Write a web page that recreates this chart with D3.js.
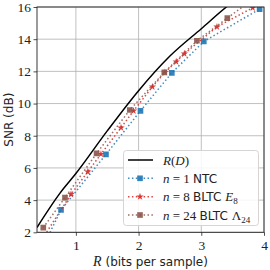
<!DOCTYPE html>
<html><head><meta charset="utf-8">
<script src="https://cdn.jsdelivr.net/npm/d3@7"></script>
<style>body{margin:0;background:#fff}svg{display:block}</style>
</head><body>
<svg id="c" width="270" height="270"></svg>
<script>
// ---- data ----
const rdR = [0.38, 0.75, 1.0, 1.5, 2.0, 2.5, 3.0, 3.4, 3.6];
const rdS = [2.3, 4.45, 5.65, 8.3, 10.8, 12.95, 14.65, 16.0, 16.6];
const ntcR = [0.45, 0.763, 1.48, 2.03, 2.53, 3.04, 3.93];
const ntcS = [0.9, 3.39, 6.84, 9.55, 11.91, 13.86, 15.87];
const e8R = [0.4, 0.922, 1.19, 1.40, 1.72, 1.92, 2.22, 2.42, 2.60, 2.73, 3.25, 3.82];
const e8S = [1.2, 4.36, 5.76, 6.86, 8.5, 9.55, 11.04, 11.94, 12.6, 13.1, 14.77, 15.95];
const l24R = [0.48, 0.826, 1.33, 1.86, 2.41, 2.93, 3.415, 3.9];
const l24S = [2.29, 4.15, 6.9, 9.6, 11.94, 13.9, 15.31, 16.7];
const xTicks = [1, 2, 3, 4];
const yTicks = [2, 4, 6, 8, 10, 12, 14, 16];

const svg = d3.select("#c");
const L = 37, R = 264, T = 7, B = 232.3;
const x = d3.scaleLinear().domain([0.38, 4]).range([L, R]);
const y = d3.scaleLinear().domain([2, 16]).range([B, T]);
const serif = "'Liberation Serif','DejaVu Serif',serif";
const sans = "'DejaVu Sans',sans-serif";

svg.append("clipPath").attr("id", "clip").append("rect")
  .attr("x", L).attr("y", T).attr("width", R - L).attr("height", B - T);

// grid
const g = svg.append("g");
g.selectAll(".gx").data(xTicks).join("line")
  .attr("x1", d => x(d)).attr("x2", d => x(d)).attr("y1", T).attr("y2", B)
  .attr("stroke", "#b0b0b0").attr("stroke-width", 0.8);
g.selectAll(".gy").data(yTicks).join("line")
  .attr("y1", d => y(d)).attr("y2", d => y(d)).attr("x1", L).attr("x2", R)
  .attr("stroke", "#b0b0b0").attr("stroke-width", 0.8);

// axes
const xa = svg.append("g").attr("transform", `translate(0,${B})`)
  .call(d3.axisBottom(x).tickValues(xTicks).tickSize(3.5).tickPadding(3).tickFormat(d3.format("d")));
const ya = svg.append("g").attr("transform", `translate(${L},0)`)
  .call(d3.axisLeft(y).tickValues(yTicks).tickSize(3.5).tickPadding(2.5).tickFormat(d3.format("d")));
[xa, ya].forEach(a => {
  a.select(".domain").remove();
  a.selectAll("line").attr("stroke", "#222").attr("stroke-width", 0.8);
  a.selectAll("text").attr("font-family", serif).attr("font-size", 13.5).attr("fill", "#222");
});
xa.selectAll("text").attr("dy", "0.85em");

// data
const plot = svg.append("g").attr("clip-path", "url(#clip)");
function pts(a, b) { return a.map((v, i) => [v, b[i]]); }
const line = d3.line().x(d => x(d[0])).y(d => y(d[1]));
plot.append("path").datum(pts(rdR, rdS)).attr("d", line.curve(d3.curveMonotoneX))
  .attr("fill", "none").attr("stroke", "#000").attr("stroke-width", 1.5);
const lin = d3.line().x(d => x(d[0])).y(d => y(d[1]));
const series = [
  {r: ntcR, s: ntcS, c: "#1f77b4", m: "square"},
  {r: e8R, s: e8S, c: "#d62728", m: "star"},
  {r: l24R, s: l24S, c: "#8c564b", m: "square"}
];
const sq = d3.symbol().type(d3.symbolSquare).size(32);
const st = d3.symbol().type(d3.symbolStar).size(17);
series.forEach(se => {
  const p = pts(se.r, se.s);
  plot.append("path").datum(p).attr("d", lin).attr("fill", "none")
    .attr("stroke", se.c).attr("stroke-width", 1.5).attr("stroke-dasharray", "1.5,2.4").attr("opacity", 0.85);
  plot.selectAll(null).data(p).join("path")
    .attr("transform", d => `translate(${x(d[0])},${y(d[1])})`)
    .attr("d", se.m === "square" ? sq : st).attr("fill", se.c).attr("opacity", 0.9);
});

// frame
svg.append("rect").attr("x", L).attr("y", T).attr("width", R - L).attr("height", B - T)
  .attr("fill", "none").attr("stroke", "#222").attr("stroke-width", 0.9);

// axis labels
svg.append("text").attr("transform", `translate(13,${(T + B) / 2}) rotate(-90)`)
  .attr("text-anchor", "middle").attr("font-family", sans).attr("font-size", 12).attr("fill", "#222")
  .text("SNR (dB)");
const xl = svg.append("text").attr("x", (L + R) / 2).attr("y", 266).attr("text-anchor", "middle")
  .attr("font-size", 12).attr("fill", "#222");
xl.append("tspan").attr("font-family", serif).attr("font-style", "italic").attr("font-size", 14).text("R");
xl.append("tspan").attr("font-family", sans).text(" (bits per sample)");

// legend
const lg = svg.append("g");
lg.append("rect").attr("x", 123.5).attr("y", 150.5).attr("width", 135).attr("height", 75)
  .attr("rx", 3).attr("fill", "#fff").attr("fill-opacity", 0.85).attr("stroke", "#d0d0d0").attr("stroke-width", 0.9);
const rows = [160, 178.3, 196.7, 215];
const hx1 = 128, hx2 = 153, tx = 163;
lg.append("line").attr("x1", hx1).attr("x2", hx2).attr("y1", rows[0]).attr("y2", rows[0])
  .attr("stroke", "#000").attr("stroke-width", 1.5);
series.forEach((se, i) => {
  const yy = rows[i + 1];
  lg.append("line").attr("x1", hx1).attr("x2", hx2).attr("y1", yy).attr("y2", yy)
    .attr("stroke", se.c).attr("stroke-width", 1.5).attr("stroke-dasharray", "1.5,2.4").attr("opacity", 0.85);
  lg.append("path").attr("transform", `translate(${(hx1 + hx2) / 2 - 0.5},${yy})`)
    .attr("d", se.m === "square" ? sq : st).attr("fill", se.c).attr("opacity", 0.9);
});
function label(yy) {
  return lg.append("text").attr("x", tx).attr("y", yy + 4.5).attr("font-size", 13).attr("fill", "#222");
}
let t = label(rows[0]);
t.append("tspan").attr("font-family", serif).attr("font-style", "italic").text("R");
t.append("tspan").attr("font-family", serif).text("(");
t.append("tspan").attr("font-family", serif).attr("font-style", "italic").text("D");
t.append("tspan").attr("font-family", serif).text(")");
const labs = [["1", "NTC", "", ""], ["8", "BLTC ", "E", "8"], ["24", "BLTC ", "Λ", "24"]];
labs.forEach((lb, i) => {
  const tt = label(rows[i + 1]);
  tt.append("tspan").attr("font-family", serif).attr("font-style", "italic").text("n");
  tt.append("tspan").attr("font-family", serif).text(" = " + lb[0] + " ");
  tt.append("tspan").attr("font-family", sans).attr("font-size", 12).text(lb[1]);
  if (lb[2]) {
    tt.append("tspan").attr("font-family", serif).attr("font-style", i === 1 ? "italic" : "normal").text(lb[2]);
    tt.append("tspan").attr("font-family", serif).attr("font-size", 9).attr("dy", 3).text(lb[3]);
  }
});
</script>
</body></html>
